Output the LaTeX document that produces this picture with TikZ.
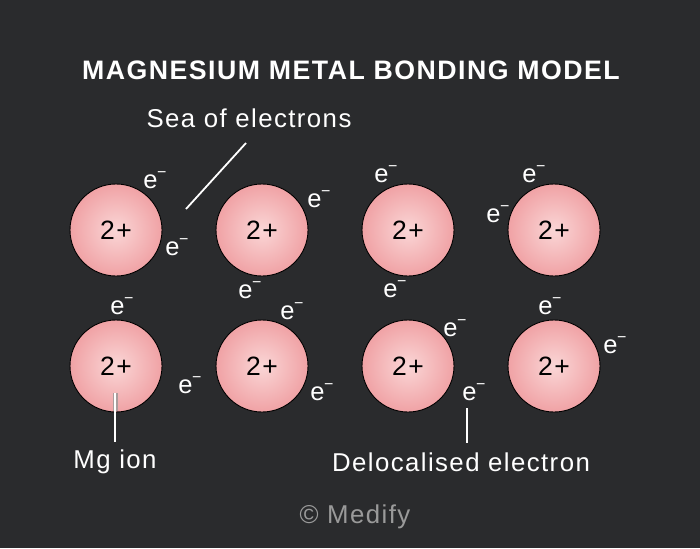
\documentclass[tikz,border=0pt]{standalone}
\usepackage{fontspec}
\setmainfont{Liberation Sans}[LetterSpace=5.5]
\usetikzlibrary{shadings}
\definecolor{bg}{HTML}{2A2B2D}
\definecolor{pinkin}{HTML}{FAD6D6}
\definecolor{pinkout}{HTML}{F0A2A5}
\definecolor{copyg}{HTML}{9A9A9A}
\newcommand{\elec}{e\kern-0.5pt\raisebox{0.42em}{\fontsize{16}{16}\selectfont −}}
\begin{document}
\begin{tikzpicture}[x=1pt,y=-1pt,
  ion/.style={circle,draw=black,line width=0.9pt,minimum size=92pt,inner sep=0pt,
    inner color=pinkin,outer color=pinkout,font=\fontsize{26.5}{30}\selectfont,text=black},
  elab/.style={text=white,inner sep=0pt,font=\fontsize{25.5}{30}\selectfont},
  lab/.style={text=white,inner sep=0pt,font=\fontsize{25.8}{30}\selectfont},
  pointer/.style={draw=white,line width=1.8pt}]
\fill[bg] (0,0) rectangle (700,548);
\useasboundingbox (0,0) rectangle (700,548);
\node[text=white,font=\fontsize{26.7}{30}\bfseries] (title) at (351,70) {MAGNESIUM METAL BONDING MODEL};
% ions
\node[ion] (i1) at (116,230) {2+};
\node[ion] (i2) at (262,230) {2+};
\node[ion] (i3) at (408,230) {2+};
\node[ion] (i4) at (554,230) {2+};
\node[ion] (i5) at (116,366) {2+};
\node[ion] (i6) at (262,366) {2+};
\node[ion] (i7) at (408,366) {2+};
\node[ion] (i8) at (554,366) {2+};
% electrons
\node[elab] (e1) at (155,180) {\elec};
\node[elab] (e2) at (177,247) {\elec};
\node[elab] (e3) at (319,199) {\elec};
\node[elab] (e4) at (386,174) {\elec};
\node[elab] (e5) at (534,174) {\elec};
\node[elab] (e6) at (498,214) {\elec};
\node[elab] (e7) at (122,306) {\elec};
\node[elab] (e8) at (250,290) {\elec};
\node[elab] (e9) at (292,311) {\elec};
\node[elab] (e10) at (190,385) {\elec};
\node[elab] (e11) at (322,392) {\elec};
\node[elab] (e12) at (395,289) {\elec};
\node[elab] (e13) at (455,328) {\elec};
\node[elab] (e14) at (474,392) {\elec};
\node[elab] (e15) at (550,306) {\elec};
\node[elab] (e16) at (615,345) {\elec};
% labels
\node[lab] (sea) at (249,118) {Sea of electrons};
\node[lab] (mg) at (115,462) {Mg ion};
\node[lab] (deloc) at (461,462) {Delocalised electron};
\node[text=copyg,inner sep=0pt,font=\fontsize{25.8}{30}\selectfont] (copy) at (355,517) {© Medify};
% pointers
\coordinate (seaA) at (246,143);
\coordinate (seaB) at (186,209);
\draw[pointer] (seaA) -- (seaB);
\coordinate (mgA) at (115,393);
\coordinate (mgB) at (115,442);
\fill[copyg!80!pinkout] (113,393) rectangle (117.5,411);
\draw[pointer] (mgA) -- (mgB);
\coordinate (dA) at (467,408);
\coordinate (dB) at (467,443);
\draw[pointer] (dA) -- (dB);
\end{tikzpicture}
\end{document}
